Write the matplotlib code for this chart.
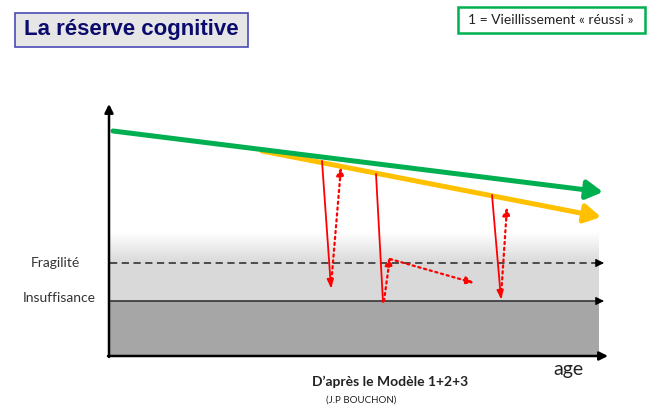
import numpy as np
import matplotlib.pyplot as plt
from matplotlib.patches import Rectangle
from matplotlib.colors import LinearSegmentedColormap

# schematic coordinates (pixel space of the original slide, y downward)
green_line = [(113, 131), (603, 192)]
orange_line = [(262, 151), (601, 217)]
fragility_y = 263
insufficiency_y = 301
zone_x = [110, 599]
gradient_top = 232
axis_bottom = 356

# red solid drops (decline) and dotted rises (compensation)
drops = [((322, 161), (331, 288)), ((376, 174), (383, 302)), ((492, 195), (501, 299))]
drop_heads = [True, False, True]
rises = [((331, 286), (341, 167)), ((384, 301), (390, 257)), ((390, 259), (474, 283)),
         ((501, 297), (507, 207))]

labels = ["Fragilité", "Insuffisance"]

plt.rcParams['font.family'] = ['Lato', 'DejaVu Sans']

fig = plt.figure(figsize=(6.56, 4.08), dpi=100)
ax = fig.add_axes([0, 0, 1, 1])
ax.set_xlim(0, 656)
ax.set_ylim(408, 0)
ax.axis('off')

# grey zones
grad = LinearSegmentedColormap.from_list('g', ['#ffffff', '#d9d9d9'])
ax.imshow(np.linspace(0, 1, 100).reshape(-1, 1), cmap=grad, aspect='auto',
          extent=[zone_x[0], zone_x[1], fragility_y, gradient_top], zorder=1)
ax.add_patch(Rectangle((zone_x[0], fragility_y), zone_x[1] - zone_x[0],
                       insufficiency_y - fragility_y, color='#d9d9d9', lw=0, zorder=1))
ax.add_patch(Rectangle((zone_x[0], insufficiency_y), zone_x[1] - zone_x[0],
                       axis_bottom - insufficiency_y, color='#a6a6a6', lw=0, zorder=1))

def arrow(p0, p1, color, lw, ls='-', hl=0.9, hw=0.45, ms=14, head=True, z=3):
    style = '-|>,head_length=%s,head_width=%s' % (hl, hw) if head else '-'
    ax.annotate('', xy=p1, xytext=p0, zorder=z,
                arrowprops=dict(arrowstyle=style, color=color, lw=lw, ls=ls,
                                shrinkA=0, shrinkB=0, mutation_scale=ms))

# threshold lines
ax.plot([zone_x[0], 598], [fragility_y] * 2, color='#404040', lw=1.3, ls=(0, (4, 2.5)), zorder=2)
arrow((597, fragility_y), (604, fragility_y), '#000000', 0.8, hl=0.5, hw=0.25, ms=10)
ax.plot([zone_x[0], 598], [insufficiency_y] * 2, color='#404040', lw=1.3, zorder=2)
arrow((597, insufficiency_y), (604, insufficiency_y), '#000000', 0.8, hl=0.5, hw=0.25, ms=10)

# axes
arrow((109, 357), (109, 104), 'black', 1.8, hl=0.5, hw=0.25, ms=10, z=4)
arrow((108, 356), (608, 356), 'black', 1.8, hl=0.5, hw=0.25, ms=10, z=4)

# trajectories
arrow(orange_line[0], orange_line[1], '#ffc000', 3.6, hl=0.7, hw=0.4, ms=14)
arrow(green_line[0], green_line[1], '#00b050', 3.6, hl=0.7, hw=0.4, ms=14)

for (p0, p1), h in zip(drops, drop_heads):
    arrow(p0, p1, '#ff0000', 1.3, hl=0.5, hw=0.2, ms=10, head=h, z=5)
for p0, p1 in rises:
    arrow(p0, p1, '#ff0000', 1.6, ls=':', hl=0.5, hw=0.22, ms=10, z=5)

# labels
ax.text(55, fragility_y, labels[0], ha='center', va='center', fontsize=10, color='#333333')
ax.text(59, insufficiency_y - 3, labels[1], ha='center', va='center', fontsize=10, color='#333333')
ax.text(568, 369, 'age', ha='center', va='center', fontsize=14, color='#222222')
ax.text(390, 382, "D\u2019après le Modèle 1+2+3", ha='center', va='center',
        fontsize=10, fontweight='bold', color='#222222')
ax.text(361, 400, '(J.P BOUCHON)', ha='center', va='center', fontsize=7, color='#222222')

# title box
ax.add_patch(Rectangle((15, 13), 233, 34, facecolor='#e6e6e6', edgecolor='#4a4ab8', lw=1.2, zorder=6))
ax.text(131, 30, 'La réserve cognitive', ha='center', va='center', fontsize=16,
        fontweight='bold', color='#0b0b6e', family=['Liberation Sans', 'DejaVu Sans'], zorder=7)

# legend box
ax.add_patch(Rectangle((458, 7), 187, 26, facecolor='white', edgecolor='#00b050', lw=1.8, zorder=6))
ax.text(551, 20, '1 = Vieillissement « réussi »', ha='center', va='center',
        fontsize=10, color='#222222', zorder=7)

fig.savefig('out.png', dpi=100)
